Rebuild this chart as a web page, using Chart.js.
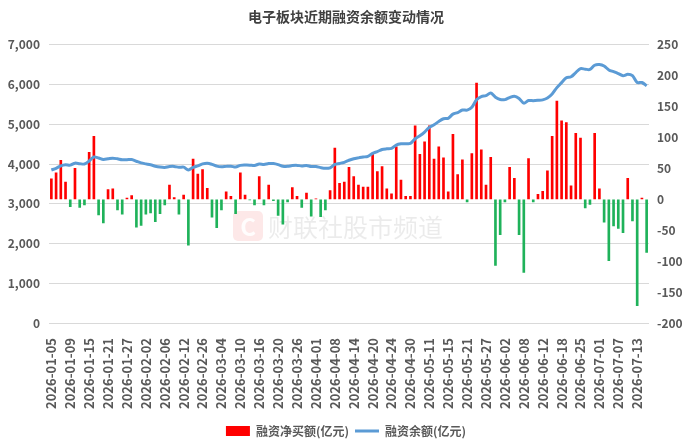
<!DOCTYPE html>
<html>
<head>
<meta charset="utf-8">
<script src="https://cdn.jsdelivr.net/npm/chart.js@4/dist/chart.umd.min.js"></script>
<style>
  html, body { margin: 0; padding: 0; background: #fff; }
  #wrap { width: 692px; height: 447px; }
</style>
</head>
<body>
<div id="wrap"><canvas id="chart"></canvas></div>
<script>
// trading days
const dates = [
    '2026-01-05','2026-01-06','2026-01-07','2026-01-08','2026-01-09','2026-01-12','2026-01-13','2026-01-14','2026-01-15','2026-01-16',
    '2026-01-19','2026-01-20','2026-01-21','2026-01-22','2026-01-23','2026-01-26','2026-01-27','2026-01-28','2026-01-29','2026-01-30',
    '2026-02-02','2026-02-03','2026-02-04','2026-02-05','2026-02-06','2026-02-09','2026-02-10','2026-02-11','2026-02-12','2026-02-13',
    '2026-02-24','2026-02-25','2026-02-26','2026-02-27',
    '2026-03-02','2026-03-03','2026-03-04','2026-03-05','2026-03-06','2026-03-09','2026-03-10','2026-03-11','2026-03-12','2026-03-13',
    '2026-03-16','2026-03-17','2026-03-18','2026-03-19','2026-03-20','2026-03-23','2026-03-24','2026-03-25','2026-03-26','2026-03-27',
    '2026-03-30','2026-03-31',
    '2026-04-01','2026-04-02','2026-04-03','2026-04-07','2026-04-08','2026-04-09','2026-04-10','2026-04-13','2026-04-14','2026-04-15',
    '2026-04-16','2026-04-17','2026-04-20','2026-04-21','2026-04-22','2026-04-23','2026-04-24','2026-04-27','2026-04-28','2026-04-29',
    '2026-04-30',
    '2026-05-06','2026-05-07','2026-05-08','2026-05-11','2026-05-12','2026-05-13','2026-05-14','2026-05-15','2026-05-18','2026-05-19',
    '2026-05-20','2026-05-21','2026-05-22','2026-05-25','2026-05-26','2026-05-27','2026-05-28','2026-05-29',
    '2026-06-01','2026-06-02','2026-06-03','2026-06-04','2026-06-05','2026-06-08','2026-06-09','2026-06-10','2026-06-11','2026-06-12',
    '2026-06-15','2026-06-16','2026-06-17','2026-06-18','2026-06-22','2026-06-23','2026-06-24','2026-06-25','2026-06-26','2026-06-29',
    '2026-06-30',
    '2026-07-01','2026-07-02','2026-07-03','2026-07-06','2026-07-07','2026-07-08','2026-07-09','2026-07-10','2026-07-13','2026-07-14',
    '2026-07-15'
];

// 融资净买额 (亿元), right axis
const netBuy = [
    33, 43, 63, 28, -12, 50, -13, -9, 76, 102,
    -25, -38, 16, 17, -17, -24, 2, 6, -45, -42,
    -24, -22, -36, -23, -9, 23, 3, -24, 7, -74,
    65, 41, 48, 18, -29, -46, -17, 12, 5, -23,
    43, 7, -1, -9, 37, -9, 23, -2, -26, -40,
    -4, 19, 5, -13, 10, -27, 1, -28, -17, 14,
    83, 26, 28, 52, 37, 23, 20, 20, 73, 45,
    53, 17, 9, 85, 31, 5, 5, 119, 73, 93,
    119, 65, 85, 67, 12, 105, 40, 64, -4, 74,
    188, 80, 23, 68, -107, -57, -4, 52, 34, -57,
    -118, 66, -4, 8, 13, 46, 102, 159, 127, 124,
    22, 107, 99, -14, -8, 107, 17, -37, -99, -43,
    -47, -54, 34, -35, -172, 2, -86
];

// 融资余额 (亿元), left axis
const balance = [
    3850, 3893, 3956, 3984, 3972, 4022, 4009, 4000, 4076, 4178,
    4153, 4115, 4131, 4148, 4131, 4107, 4109, 4115, 4070, 4028,
    4004, 3982, 3946, 3923, 3914, 3937, 3940, 3916, 3923, 3849,
    3914, 3955, 4003, 4021, 3992, 3946, 3929, 3941, 3946, 3923,
    3966, 3973, 3972, 3963, 4000, 3991, 4014, 4012, 3986, 3946,
    3942, 3961, 3966, 3953, 3963, 3936, 3937, 3909, 3892, 3906,
    3989, 4015, 4043, 4095, 4132, 4155, 4175, 4195, 4268, 4313,
    4366, 4383, 4392, 4477, 4508, 4513, 4518, 4637, 4710, 4803,
    4922, 4987, 5072, 5139, 5151, 5256, 5296, 5360, 5356, 5430,
    5618, 5698, 5721, 5789, 5682, 5625, 5621, 5673, 5707, 5650,
    5532, 5598, 5594, 5602, 5615, 5661, 5763, 5922, 6049, 6173,
    6195, 6302, 6401, 6387, 6379, 6486, 6503, 6466, 6367, 6324,
    6277, 6223, 6257, 6222, 6050, 6052, 5966
];

const leftTicks = [0, 1000, 2000, 3000, 4000, 5000, 6000, 7000];
const rightTicks = [-200, -150, -100, -50, 0, 50, 100, 150, 200, 250];

const RED = '#ff0000';
const GREEN = '#1fb25a';
const BLUE = '#5b9bd5';
const TXT = '#595959';
const FONT = '"Noto Sans CJK SC", "Noto Sans", sans-serif';

// faint watermark behind the bars
const watermark = {
    id: 'watermark',
    beforeDatasetsDraw(chart) {
        const ctx = chart.ctx;
        ctx.save();
        ctx.fillStyle = 'rgba(240, 80, 80, 0.13)';
        ctx.beginPath();
        ctx.roundRect(233, 211, 30, 30, 5);
        ctx.fill();
        ctx.fillStyle = 'rgba(255,255,255,0.9)';
        ctx.font = 'bold 24px ' + FONT;
        ctx.textAlign = 'center';
        ctx.textBaseline = 'middle';
        ctx.fillText('C', 248, 227);
        ctx.fillStyle = 'rgba(0,0,0,0.08)';
        ctx.font = '25px ' + FONT;
        ctx.textAlign = 'left';
        ctx.fillText('财联社股市频道', 268, 227);
        ctx.restore();
    }
};

new Chart(document.getElementById('chart'), {
    data: {
        labels: dates,
        datasets: [{
            type: 'line',
            label: '融资余额(亿元)',
            data: balance,
            yAxisID: 'y',
            borderColor: BLUE,
            backgroundColor: BLUE,
            borderWidth: 3,
            pointRadius: 0,
            tension: 0.3,
            order: 0
        }, {
            type: 'bar',
            label: '融资净买额(亿元)',
            data: netBuy,
            yAxisID: 'y1',
            backgroundColor: netBuy.map(v => v >= 0 ? RED : GREEN),
            barThickness: 2,
            order: 1
        }]
    },
    options: {
        responsive: true,
        maintainAspectRatio: false,
        animation: false,
        layout: { padding: 0 },
        plugins: {
            title: {
                display: true,
                text: '电子板块近期融资余额变动情况',
                color: '#404040',
                font: { family: FONT, size: 14, weight: 'bold' },
                padding: { top: 8, bottom: 20 }
            },
            legend: {
                position: 'bottom',
                labels: {
                    usePointStyle: true,
                    pointStyleWidth: 24,
                    boxHeight: 10,
                    padding: 6,
                    color: TXT,
                    font: { family: FONT, size: 12, weight: 'bold' },
                    generateLabels: () => [
                        { text: '融资净买额(亿元)', fillStyle: RED, strokeStyle: RED, lineWidth: 0, pointStyle: 'rect', datasetIndex: 1, fontColor: TXT },
                        { text: '融资余额(亿元)', fillStyle: BLUE, strokeStyle: BLUE, lineWidth: 3, pointStyle: 'line', datasetIndex: 0, fontColor: TXT }
                    ]
                }
            },
            tooltip: { enabled: false }
        },
        scales: {
            x: {
                offset: true,
                grid: { display: false },
                border: { display: false },
                afterFit: s => { s.height = 96; },
                ticks: {
                    autoSkip: false,
                    minRotation: 90,
                    maxRotation: 90,
                    padding: 7,
                    color: TXT,
                    font: { family: FONT, size: 13, weight: 'bold' },
                    callback: (v, i) => i % 4 === 0 ? dates[i] : ''
                }
            },
            y: {
                position: 'left',
                min: 0,
                max: 7000,
                afterBuildTicks: s => { s.ticks = leftTicks.map(v => ({ value: v })); },
                afterFit: s => { s.width = 49; },
                grid: { color: '#d9d9d9', drawTicks: false },
                border: { display: false },
                ticks: {
                    padding: 9,
                    color: TXT,
                    font: { family: FONT, size: 12, weight: 'bold' },
                    callback: v => v.toLocaleString('en-US')
                }
            },
            y1: {
                position: 'right',
                min: -200,
                max: 250,
                afterBuildTicks: s => { s.ticks = rightTicks.map(v => ({ value: v })); },
                afterFit: s => { s.width = 43; },
                grid: { drawOnChartArea: false, drawTicks: false },
                border: { display: false },
                ticks: {
                    padding: 8,
                    color: TXT,
                    font: { family: FONT, size: 12, weight: 'bold' }
                }
            }
        }
    },
    plugins: [watermark]
});
</script>
</body>
</html>
